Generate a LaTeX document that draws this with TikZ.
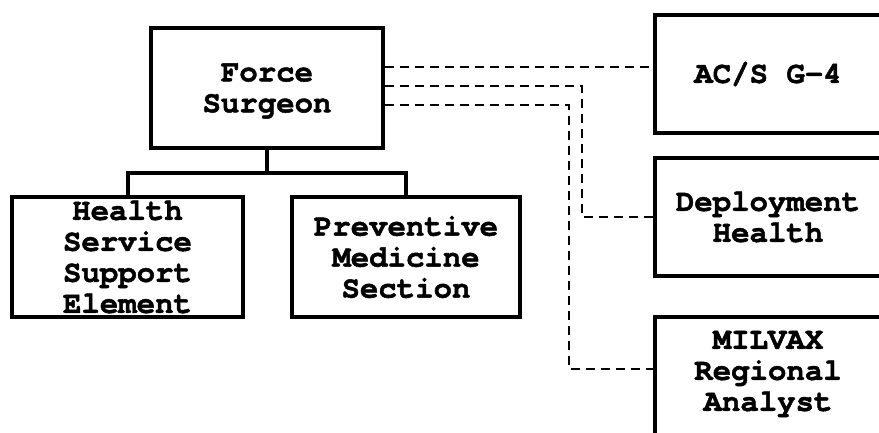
\documentclass[tikz,border=0pt]{standalone}
\usepackage{fontspec}
\setmonofont{TeX Gyre Cursor}[BoldFeatures={FakeBold=1.5}]
\newcommand\orgfont{\ttfamily\bfseries\fontsize{30.7}{31}\selectfont}
\begin{document}
\begin{tikzpicture}[x=1pt,y=-1pt,
  orgbox/.style={draw, line width=4pt, inner sep=0pt, align=center, font=\orgfont},
  orgtext/.style={inner sep=0pt, align=center, font=\orgfont},
  solidlink/.style={line width=4pt},
  dottedlink/.style={line width=2pt, dash pattern=on 9pt off 6pt}]
\useasboundingbox (0,0) rectangle (879,432);
\clip (0,0) rectangle (879,432);

% command element and its subordinate sections
\node[orgbox, minimum width=232pt, minimum height=120pt] (fs) at (267,88) {};
\node[orgtext] (fst) at (267,91) {Force\\Surgeon};
\node[orgbox, minimum width=231pt, minimum height=120pt] (hss) at (127.5,257) {Health\\Service\\Support\\Element};
\node[orgbox, minimum width=228pt, minimum height=120pt] (pm) at (406,257) {Preventive\\Medicine\\Section};

% coordinating staff elements on the right
\node[orgbox, minimum width=226pt, minimum height=118pt] (acs) at (768,74) {AC/S G-4};
\node[orgbox, minimum width=226pt, minimum height=118pt] (dh) at (768,217) {Deployment\\Health};
\node[orgbox, minimum width=226pt, minimum height=120pt] (mv) at (768,377) {};
\node[orgtext] (mvt) at (768,374) {MILVAX\\Regional\\Analyst};

% command lines
\coordinate (bus) at (267,173);
\draw[solidlink] (fs.south) -- (bus);
\draw[solidlink] (bus) -| (hss.north);
\draw[solidlink] (bus) -| (pm.north);

% coordination lines
\coordinate (k2) at (582,0);
\coordinate (k3) at (569,0);
\coordinate (k4) at (0,369);
\draw[dottedlink] ([yshift=21pt]fs.east) coordinate (t1) -- (t1 -| acs.west);
\draw[dottedlink] ([yshift=2pt]fs.east) -| (k2 |- dh.west) -- (dh.west);
\draw[dottedlink] ([yshift=-17pt]fs.east) -| (k3 |- k4) -- (k4 -| mv.west);
\end{tikzpicture}
\end{document}
